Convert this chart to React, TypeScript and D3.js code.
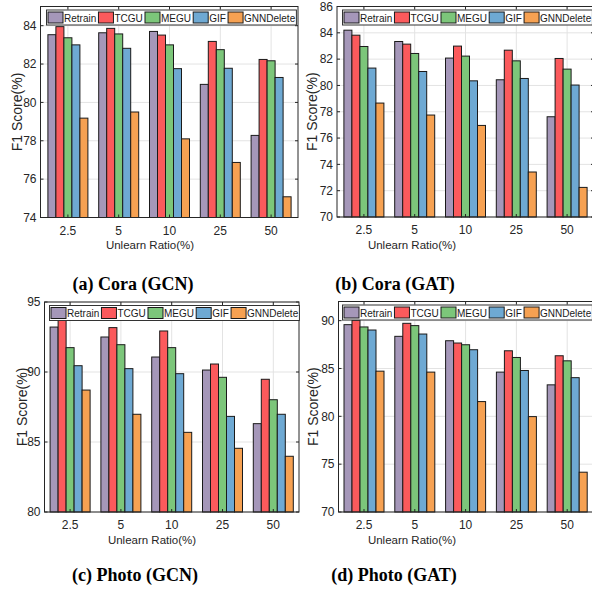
import React, { useEffect, useRef } from "react";
import * as d3 from "d3";

const ratios = ["2.5", "5", "10", "25", "50"];
const methods = ["Retrain", "TCGU", "MEGU", "GIF", "GNNDelete"];
const colors = ["#a597b9", "#fb5a5c", "#7cc67a", "#6ea9d3", "#f6a152"];

// one row per method, one value per unlearn ratio
const coraGcn = [
  [83.53, 83.63, 83.7, 80.94, 78.28],
  [83.95, 83.86, 83.51, 83.18, 82.24],
  [83.37, 83.57, 83.0, 82.75, 82.17],
  [83.0, 82.82, 81.76, 81.78, 81.3],
  [79.18, 79.5, 78.1, 76.87, 75.08],
];
const coraGat = [
  [84.2, 83.34, 82.08, 80.43, 77.62],
  [83.82, 83.14, 82.99, 82.68, 82.05],
  [82.96, 82.43, 82.23, 81.87, 81.24],
  [81.32, 81.06, 80.35, 80.53, 80.03],
  [78.66, 77.75, 76.96, 73.42, 72.25],
];
const photoGcn = [
  [93.21, 92.5, 91.07, 90.14, 86.31],
  [93.74, 93.17, 92.93, 90.57, 89.48],
  [91.74, 91.95, 91.74, 89.62, 88.02],
  [90.45, 90.24, 89.88, 86.83, 86.98],
  [88.71, 86.98, 85.69, 84.55, 83.98],
];
const photoGat = [
  [89.58, 88.36, 87.9, 84.62, 83.29],
  [90.03, 89.72, 87.66, 86.85, 86.33],
  [89.34, 89.48, 87.48, 86.15, 85.8],
  [89.02, 88.6, 86.96, 84.79, 84.04],
  [84.72, 84.62, 81.54, 79.97, 74.16],
];

const coraGcnTicks = [74, 76, 78, 80, 82, 84];
const coraGatTicks = [70, 72, 74, 76, 78, 80, 82, 84, 86];
const photoGcnTicks = [80, 85, 90, 95];
const photoGatTicks = [70, 75, 80, 85, 90];

const panels = [
  { data: coraGcn, ticks: coraGcnTicks, domain: [74, 85], caption: "(a) Cora (GCN)", legX: 46.5,
    x0: 40.5, x1: 298, y0: 6.5, y1: 217.5, band0: 42.5, titleX: 17, labelX: 150, labelY: 249, capX: 133, capY: 290 },
  { data: coraGat, ticks: coraGatTicks, domain: [70, 86], caption: "(b) Cora (GAT)", legX: 342.5,
    x0: 337, x1: 594, y0: 6.5, y1: 217, band0: 338.5, titleX: 312, labelX: 412, labelY: 249, capX: 395, capY: 290 },
  { data: photoGcn, ticks: photoGcnTicks, domain: [80, 95], caption: "(c) Photo (GCN)", legX: 49.5,
    x0: 44.5, x1: 299, y0: 302, y1: 512, band0: 44.7, titleX: 22, labelX: 152, labelY: 544, capX: 135, capY: 581 },
  { data: photoGat, ticks: photoGatTicks, domain: [70, 92], caption: "(d) Photo (GAT)", legX: 342.5,
    x0: 338.5, x1: 596, y0: 301.5, y1: 512, band0: 338.6, titleX: 313, labelX: 412, labelY: 544, capX: 394, capY: 581 },
];

export default function App() {
  const ref = useRef<SVGSVGElement>(null);

  useEffect(() => {
    const svg = d3.select(ref.current);
    svg.selectAll("*").remove();
    const font = "'Liberation Sans', Arial, sans-serif";

    panels.forEach((p) => {
      const g = svg.append("g");
      const x = d3.scaleBand().domain(ratios).range([p.band0, p.band0 + 5 * 50.8]);
      const inner = d3.scaleBand().domain(methods).range([0, 40]).padding(0);
      const y = d3.scaleLinear().domain(p.domain).range([p.y1, p.y0]);
      const cx = (r: string) => (x(r) as number) + x.bandwidth() / 2;

      // grid
      g.selectAll(".hg").data(p.ticks).join("line")
        .attr("x1", p.x0).attr("x2", p.x1)
        .attr("y1", (d) => y(d)).attr("y2", (d) => y(d))
        .attr("stroke", "#e3e3e3").attr("stroke-width", 1);
      g.selectAll(".vg").data(ratios).join("line")
        .attr("x1", cx).attr("x2", cx)
        .attr("y1", p.y0).attr("y2", p.y1)
        .attr("stroke", "#e3e3e3").attr("stroke-width", 1);

      // bars
      methods.forEach((m, mi) => {
        g.selectAll(".bar" + mi).data(p.data[mi]).join("rect")
          .attr("x", (_, i) => cx(ratios[i]) - 20 + (inner(m) as number))
          .attr("y", (d) => y(d))
          .attr("width", inner.bandwidth())
          .attr("height", (d) => p.y1 - y(d))
          .attr("fill", colors[mi])
          .attr("stroke", "#1a1a1a").attr("stroke-width", 1);
      });

      // frame and inner ticks
      g.append("rect")
        .attr("x", p.x0).attr("y", p.y0)
        .attr("width", p.x1 - p.x0).attr("height", p.y1 - p.y0)
        .attr("fill", "none").attr("stroke", "#262626").attr("stroke-width", 1);
      p.ticks.forEach((t) => {
        g.append("line").attr("x1", p.x0).attr("x2", p.x0 + 3).attr("y1", y(t)).attr("y2", y(t)).attr("stroke", "#262626");
        g.append("line").attr("x1", p.x1 - 3).attr("x2", p.x1).attr("y1", y(t)).attr("y2", y(t)).attr("stroke", "#262626");
      });
      ratios.forEach((r) => {
        g.append("line").attr("x1", cx(r)).attr("x2", cx(r)).attr("y1", p.y1 - 3).attr("y2", p.y1).attr("stroke", "#262626");
        g.append("line").attr("x1", cx(r)).attr("x2", cx(r)).attr("y1", p.y0).attr("y2", p.y0 + 3).attr("stroke", "#262626");
      });

      // tick labels
      g.selectAll(".yl").data(p.ticks).join("text")
        .attr("x", p.x0 - 4).attr("y", (d) => y(d)).attr("dy", "0.35em")
        .attr("text-anchor", "end").attr("font-family", font).attr("font-size", 12)
        .attr("fill", "#262626").text((d) => d);
      g.selectAll(".xl").data(ratios).join("text")
        .attr("x", cx).attr("y", p.y1 + 17)
        .attr("text-anchor", "middle").attr("font-family", font).attr("font-size", 12)
        .attr("fill", "#262626").text((d) => d);

      // axis titles
      g.append("text")
        .attr("transform", `translate(${p.titleX},${(p.y0 + p.y1) / 2}) rotate(-90)`)
        .attr("dy", "0.35em").attr("text-anchor", "middle")
        .attr("font-family", font).attr("font-size", 14).attr("fill", "#262626")
        .text("F1 Score(%)");
      g.append("text")
        .attr("x", p.labelX).attr("y", p.labelY).attr("text-anchor", "middle")
        .attr("font-family", font).attr("font-size", 11.5).attr("fill", "#262626")
        .text("Unlearn Ratio(%)");

      // caption
      g.append("text")
        .attr("x", p.capX).attr("y", p.capY).attr("text-anchor", "middle")
        .attr("font-family", "'Liberation Serif', 'Times New Roman', serif")
        .attr("font-weight", "bold").attr("font-size", 18).attr("fill", "#000")
        .text(p.caption);

      // legend
      const lx = p.legX, ly = p.y0 + 3.5;
      const lg = g.append("g");
      const box = lg.append("rect")
        .attr("x", lx).attr("y", ly).attr("height", 15)
        .attr("fill", "#fff").attr("stroke", "#333").attr("stroke-width", 1);
      let cur = lx + 1.5;
      methods.forEach((m, mi) => {
        lg.append("rect")
          .attr("x", cur).attr("y", ly + 2).attr("width", 15).attr("height", 11)
          .attr("fill", colors[mi]).attr("stroke", "#1a1a1a").attr("stroke-width", 1);
        const t = lg.append("text")
          .attr("x", cur + 16).attr("y", ly + 11.5)
          .attr("font-family", font).attr("font-size", 10).attr("fill", "#1a1a1a")
          .text(m);
        const w = (t.node() as SVGTextElement).getComputedTextLength();
        cur += 16 + w + (mi < methods.length - 1 ? 2.2 : 1.2);
      });
      box.attr("width", cur - lx);
    });
  }, []);

  return (
    <svg
      ref={ref}
      width={592}
      height={591}
      style={{ position: "absolute", left: 0, top: 0, background: "#fff" }}
    />
  );
}
